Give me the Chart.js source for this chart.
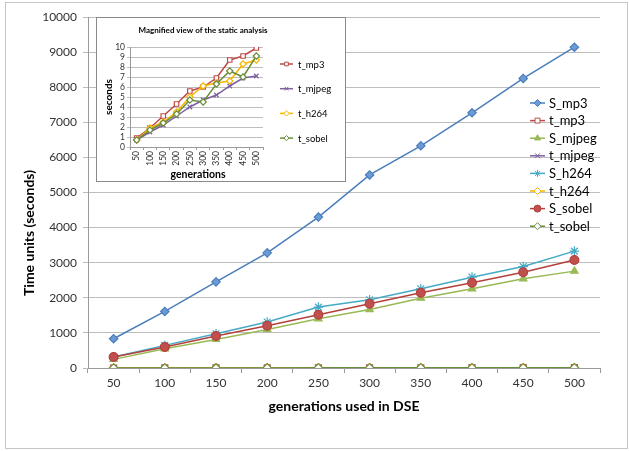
<!DOCTYPE html>
<html>
<head>
<meta charset="utf-8">
<script src="https://cdn.jsdelivr.net/npm/chart.js@4.4.1/dist/chart.umd.min.js"></script>
<style>
    body { margin: 0; background: #fff; }
    #wrap { position: relative; width: 629px; height: 451px; }
    #frame { position: absolute; left: 5px; top: 2px; width: 623px; height: 447px; border: 1px solid #c6c6c6; box-sizing: border-box; }
    #main { position: absolute; left: 0; top: 0; }
    #insetBox { position: absolute; left: 96px; top: 17px; width: 250px; height: 165px; border: 1px solid #8a8a8a; box-sizing: border-box; background: #fff; }
    #inset { position: absolute; left: 0; top: 0; }
</style>
</head>
<body>
<div id="wrap">
    <div id="frame"></div>
    <canvas id="main" width="629" height="451"></canvas>
    <div id="insetBox"><canvas id="inset" width="248" height="163"></canvas></div>
</div>
<script>
// generations used in DSE
const generations = ['50', '100', '150', '200', '250', '300', '350', '400', '450', '500'];

// static analysis (S_) and simulation time (t_), seconds
const sMp3   = [834, 1611, 2455, 3280, 4300, 5500, 6330, 7270, 8250, 9140];
const tMp3   = [0.9, 1.9, 3.1, 4.3, 5.6, 6.0, 6.9, 8.7, 9.1, 9.9];
const sMjpeg = [246, 550, 815, 1100, 1403, 1668, 1990, 2256, 2540, 2760];
const tMjpeg = [0.7, 1.5, 2.2, 3.1, 4.0, 4.7, 5.2, 6.1, 6.9, 7.1];
const sH264  = [313, 645, 976, 1308, 1735, 1943, 2256, 2588, 2890, 3330];
const tH264  = [0.7, 1.9, 2.5, 3.5, 5.0, 6.1, 6.4, 6.6, 8.3, 8.7];
const sSobel = [313, 597, 910, 1204, 1517, 1830, 2142, 2427, 2730, 3075];
const tSobel = [0.7, 1.7, 2.4, 3.3, 4.7, 4.5, 6.3, 7.6, 7.0, 9.1];

const FONT = 'Lato, "Open Sans", sans-serif';

// series look, Excel style
const looks = {
    S_mp3:   { color: '#4a7ebb', fill: '#6b9bd6', style: 'rectRot', r: 4.2 },
    t_mp3:   { color: '#be4b48', fill: '#ffffff', style: 'rect', r: 4.2 },
    S_mjpeg: { color: '#98b954', fill: '#9bbb59', style: 'triangle', r: 4.2 },
    t_mjpeg: { color: '#7d60a0', fill: '#7d60a0', style: 'crossRot', r: 4.2 },
    S_h264:  { color: '#46aac5', fill: '#46aac5', style: 'star', r: 4.8 },
    t_h264:  { color: '#f5b800', fill: '#ffffff', style: 'rectRot', r: 4.2 },
    S_sobel: { color: '#b3403c', fill: '#c0504d', style: 'circle', r: 4.4 },
    t_sobel: { color: '#6b8e3a', fill: '#ffffff', style: 'rectRot', r: 4.2 }
};

function makeSet(name, values, idx, total, scale) {
    const lk = looks[name];
    return {
        label: name,
        data: values,
        borderColor: lk.color,
        backgroundColor: lk.fill,
        borderWidth: 1.5,
        pointStyle: lk.style,
        pointRadius: lk.r * scale,
        pointBorderColor: lk.color,
        pointBackgroundColor: lk.fill,
        pointBorderWidth: 1.2,
        tension: 0,
        order: total - idx   // later series on top, like Excel
    };
}

// legend + free text drawn on the canvas
function legendPlugin(id, cfg) {
    return {
        id: id,
        afterDraw(chart) {
            const ctx = chart.ctx;
            ctx.save();
            chart.data.datasets.forEach((ds, i) => {
                const y = cfg.y + i * cfg.step;
                ctx.strokeStyle = ds.borderColor;
                ctx.lineWidth = 1.5;
                ctx.beginPath();
                ctx.moveTo(cfg.x, y);
                ctx.lineTo(cfg.x + cfg.len, y);
                ctx.stroke();
                ctx.fillStyle = ds.pointBackgroundColor;
                ctx.strokeStyle = ds.pointBorderColor;
                ctx.lineWidth = 1;
                Chart.helpers.drawPoint(ctx, {
                    pointStyle: ds.pointStyle,
                    radius: cfg.markR,
                    borderWidth: 1,
                    rotation: 0
                }, cfg.x + cfg.len / 2, y);
                ctx.fillStyle = '#000';
                ctx.font = cfg.font;
                ctx.textAlign = 'left';
                ctx.textBaseline = 'middle';
                ctx.fillText(ds.label, cfg.textX, y + 0.5);
            });
            (cfg.texts || []).forEach(t => {
                ctx.save();
                ctx.translate(t.x, t.y);
                ctx.rotate(t.rot || 0);
                ctx.font = t.font;
                ctx.fillStyle = '#000';
                ctx.textAlign = 'center';
                ctx.textBaseline = 'middle';
                ctx.fillText(t.text, 0, 0);
                ctx.restore();
            });
            ctx.restore();
        }
    };
}

// main chart
const mainSets = [
    makeSet('S_mp3', sMp3, 0, 8, 1),
    makeSet('t_mp3', tMp3, 1, 8, 1),
    makeSet('S_mjpeg', sMjpeg, 2, 8, 1),
    makeSet('t_mjpeg', tMjpeg, 3, 8, 1),
    makeSet('S_h264', sH264, 4, 8, 1),
    makeSet('t_h264', tH264, 5, 8, 1),
    makeSet('S_sobel', sSobel, 6, 8, 1),
    makeSet('t_sobel', tSobel, 7, 8, 1)
];

new Chart(document.getElementById('main'), {
    type: 'line',
    data: { labels: generations, datasets: mainSets },
    options: {
        responsive: false,
        animation: false,
        layout: { padding: { left: 0, right: 29, top: 17, bottom: 0 } },
        plugins: { legend: { display: false }, tooltip: { enabled: false } },
        scales: {
            x: {
                offset: true,
                afterFit: s => { s.height = 83; },
                grid: { offset: true, drawOnChartArea: false, tickLength: 5, color: '#9a9a9a' },
                border: { color: '#9a9a9a' },
                ticks: { color: '#333', padding: 3, font: { family: FONT, size: 12 }, maxRotation: 0 }
            },
            y: {
                min: 0,
                max: 10000,
                afterFit: s => { s.width = 88; },
                grid: { color: '#bdbdbd', tickLength: 5 },
                border: { color: '#9a9a9a' },
                ticks: { stepSize: 1000, color: '#333', padding: 6, font: { family: FONT, size: 12 },
                    callback: v => String(v) }
            }
        }
    },
    plugins: [legendPlugin('mainLegend', {
        x: 530, len: 15, textX: 549, y: 103, step: 17.6, markR: 3.5,
        font: '13px ' + FONT,
        texts: [
            { text: 'Time units (seconds)', x: 29, y: 233, rot: -Math.PI / 2, font: 'bold 14px ' + FONT },
            { text: 'generations used in DSE', x: 344, y: 406, font: 'bold 14px ' + FONT }
        ]
    })]
});

// magnified inset with the simulation times only
const insetSets = [
    makeSet('t_mp3', tMp3, 0, 4, 0.75),
    makeSet('t_mjpeg', tMjpeg, 1, 4, 0.75),
    makeSet('t_h264', tH264, 2, 4, 0.75),
    makeSet('t_sobel', tSobel, 3, 4, 0.75)
];

new Chart(document.getElementById('inset'), {
    type: 'line',
    data: { labels: generations, datasets: insetSets },
    options: {
        responsive: false,
        animation: false,
        layout: { padding: { left: 0, right: 82, top: 29, bottom: 0 } },
        plugins: { legend: { display: false }, tooltip: { enabled: false } },
        scales: {
            x: {
                offset: true,
                afterFit: s => { s.height = 34; },
                grid: { offset: true, drawOnChartArea: false, tickLength: 3, color: '#9a9a9a' },
                border: { color: '#9a9a9a' },
                ticks: { color: '#333', padding: 1, autoSkip: false, minRotation: 90, maxRotation: 90, font: { family: FONT, size: 8.5 } }
            },
            y: {
                min: 0,
                max: 10,
                afterFit: s => { s.width = 33; },
                grid: { color: '#bdbdbd', tickLength: 3 },
                border: { color: '#9a9a9a' },
                ticks: { stepSize: 1, autoSkip: false, color: '#333', padding: 2, font: { family: FONT, size: 8.5 } }
            }
        }
    },
    plugins: [legendPlugin('insetLegend', {
        x: 183, len: 13, textX: 201, y: 46, step: 24.7, markR: 2.6,
        font: '9.5px ' + FONT,
        texts: [
            { text: 'Magnified view of the static analysis', x: 106, y: 12, font: 'bold 8px ' + FONT },
            { text: 'seconds', x: 12, y: 79, rot: -Math.PI / 2, font: 'bold 10px ' + FONT },
            { text: 'generations', x: 101, y: 157, font: 'bold 10.5px ' + FONT }
        ]
    })]
});
</script>
</body>
</html>
